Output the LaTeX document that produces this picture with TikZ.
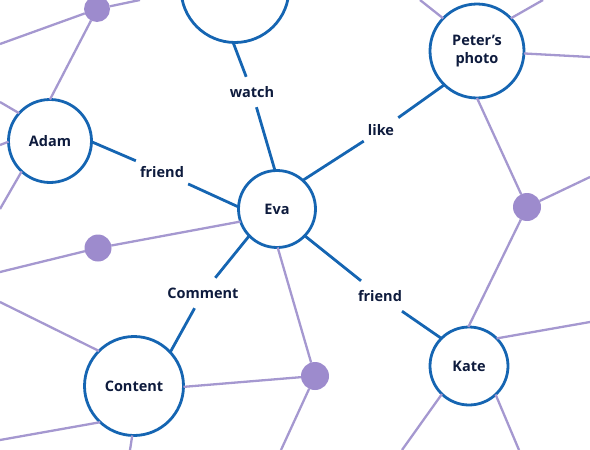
\documentclass[tikz,border=0pt]{standalone}
\usepackage{fontspec}
\setmainfont{Open Sans}
\definecolor{eblue}{HTML}{1565B2}
\definecolor{lcol}{HTML}{A598D0}
\definecolor{dotc}{HTML}{9D8BCD}
\definecolor{tcol}{HTML}{0E1B3D}
\begin{document}
\begin{tikzpicture}[x=1pt,y=-1pt,
  ent/.style={circle,draw=eblue,line width=2.8pt,fill=white,inner sep=0pt,outer sep=0pt,
    font=\bfseries\fontsize{14.5}{17.5}\selectfont,text=tcol,align=center},
  pdot/.style={circle,fill=dotc,inner sep=0pt,outer sep=0pt,minimum size=27pt},
  rel/.style={draw=eblue,line width=2.8pt},
  lnk/.style={draw=lcol,line width=2.3pt},
  lab/.style={rectangle,inner xsep=4pt,inner ysep=0pt,minimum height=30pt,
    font=\bfseries\fontsize{14.5}{17}\selectfont,text=tcol}]
\useasboundingbox (0,0) rectangle (590,450);
\clip (0,0) rectangle (590,450);
% entity circles
\node[ent,minimum size=108pt] (top) at (235,-11.5) {};
\node[ent,minimum size=83pt] (adam) at (50,141) {Adam};
\node[ent,minimum size=77pt] (eva) at (277,209) {Eva};
\node[ent,minimum size=94pt] (peter) at (477,51) {Peter’s\\photo};
\node[ent,minimum size=78pt] (kate) at (469,366) {Kate};
\node[ent,minimum size=99pt] (content) at (134,386) {Content};
% purple dots
\node[pdot,minimum size=26pt] (da) at (97,9) {};
\node[pdot] (db) at (98,248) {};
\node[pdot,minimum size=28pt] (dc) at (315,376) {};
\node[pdot,minimum size=28pt] (dd) at (527,207) {};
% free ends
\coordinate (e1) at (0,44);
\coordinate (e2) at (140,0);
\coordinate (e3) at (0,102);
\coordinate (e4) at (0,145);
\coordinate (e5) at (0,209);
\coordinate (e6) at (0,272);
\coordinate (e7) at (0,302);
\coordinate (e8) at (0,440);
\coordinate (e9) at (130,450);
\coordinate (e10) at (281,450);
\coordinate (e11) at (590,177);
\coordinate (e12) at (420,0);
\coordinate (e13) at (543,0);
\coordinate (e14) at (590,57);
\coordinate (e15) at (590,322);
\coordinate (e16) at (402,450);
\coordinate (e17) at (519,450);
% purple links
\draw[lnk] (da) -- (e1);
\draw[lnk] (da) -- (e2);
\draw[lnk] (da) -- (adam.90);
\draw[lnk] (adam.138) -- (e3);
\draw[lnk] (adam.181) -- (e4);
\draw[lnk] (adam.227) -- (e5);
\draw[lnk] (db) -- (e6);
\draw[lnk] (db) -- (eva.199);
\draw[lnk] (content.135) -- (e7);
\draw[lnk] (content.227) -- (e8);
\draw[lnk] (content.268) -- (e9);
\draw[lnk] (content.-1) -- (dc);
\draw[lnk] (dc) -- (eva.271);
\draw[lnk] (dc) -- (e10);
\draw[lnk] (peter.270) -- (dd);
\draw[lnk] (dd) -- (e11);
\draw[lnk] (dd) -- (kate.91);
\draw[lnk] (peter.136) -- (e12);
\draw[lnk] (peter.44) -- (e13);
\draw[lnk] (peter.-3) -- (e14);
\draw[lnk] (kate.45) -- (e15);
\draw[lnk] (kate.226) -- (e16);
\draw[lnk] (kate.-47) -- (e17);
% relation labels
\node[lab] (lwatch) at (252,92) {watch};
\node[lab] (lfa) at (162,172) {friend};
\node[lab] (llike) at (381,130) {like};
\node[lab] (lcom) at (203,293) {Comment};
\node[lab] (lfk) at (380,296) {friend};
% relation lines
\draw[rel] (top.268) -- (lwatch);
\draw[rel] (lwatch) -- (eva.93);
\draw[rel] (adam.-1) -- (lfa);
\draw[rel] (lfa) -- (eva.177);
\draw[rel] (eva.48) -- (llike);
\draw[rel] (llike) -- (peter.226);
\draw[rel] (eva.224) -- (lcom);
\draw[rel] (lcom) -- (content.43);
\draw[rel] (eva.316) -- (lfk);
\draw[rel] (lfk) -- (kate.135);
\end{tikzpicture}
\end{document}
